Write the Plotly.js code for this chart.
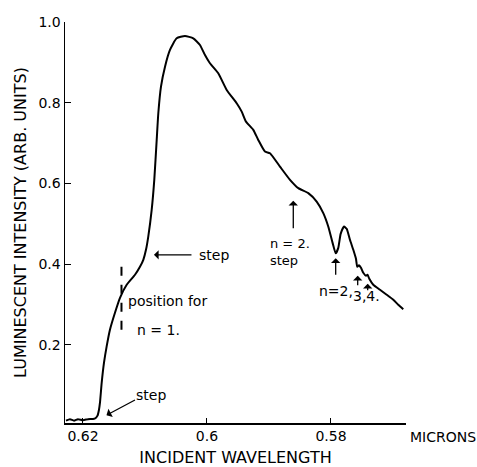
<!DOCTYPE html>
<html>
<head>
<meta charset="utf-8">
<script src="https://cdn.plot.ly/plotly-3.0.1.min.js"></script>
<style>html,body{margin:0;padding:0;background:#fff;}#chart{width:477px;height:467px;}</style>
</head>
<body>
<div id="chart"></div>
<script>
// Incident wavelength (microns)
const wavelength = [
  0.62274, 0.62210, 0.62145, 0.62081, 0.62000, 0.61919, 0.61839, 0.61790, 0.61766, 0.61742,
  0.61726, 0.61698, 0.61661, 0.61618, 0.61565, 0.61484, 0.61403, 0.61295, 0.61161, 0.61081,
  0.61027, 0.60984, 0.60947, 0.60892, 0.60850, 0.60811, 0.60785, 0.60742, 0.60677, 0.60597,
  0.60489, 0.60355, 0.60221, 0.60113, 0.60032, 0.59952, 0.59818, 0.59682, 0.59521, 0.59440,
  0.59371, 0.59253, 0.59173, 0.59065, 0.58984, 0.58823, 0.58661, 0.58527, 0.58366, 0.58231,
  0.58124, 0.58044, 0.57973, 0.57924, 0.57882, 0.57844, 0.57790, 0.57747, 0.57694, 0.57640,
  0.57597, 0.57576, 0.57548, 0.57516, 0.57479, 0.57435, 0.57411, 0.57382, 0.57318, 0.57210,
  0.57102, 0.56995, 0.56915, 0.56834
];
// Luminescent intensity (arb. units)
const intensity = [
  0.0118, 0.0155, 0.0118, 0.0155, 0.0130, 0.0155, 0.0160, 0.0192, 0.0241, 0.0390,
  0.0563, 0.1059, 0.1554, 0.1958, 0.2372, 0.2793, 0.3164, 0.3486, 0.3734, 0.3932,
  0.4105, 0.4353, 0.4682, 0.5344, 0.6087, 0.7077, 0.7739, 0.8397, 0.8893, 0.9307,
  0.9596, 0.9653, 0.9596, 0.9430, 0.9182, 0.8977, 0.8729, 0.8316, 0.7986, 0.7778,
  0.7531, 0.7325, 0.7077, 0.6788, 0.6748, 0.6416, 0.6087, 0.5881, 0.5757, 0.5549,
  0.5262, 0.4930, 0.4519, 0.4266, 0.4402, 0.4749, 0.4930, 0.4873, 0.4601, 0.4353,
  0.4130, 0.3932, 0.3969, 0.3907, 0.3783, 0.3709, 0.3734, 0.3635, 0.3486, 0.3362,
  0.3238, 0.3115, 0.2991, 0.2879
];
const xTickVals = [0.62, 0.60, 0.58];
const xTickText = ['0.62', '0.6', '0.58'];
const yTickVals = [0.2, 0.4, 0.6, 0.8, 1.0];
const yTickText = ['0.2', '0.4', '0.6', '0.8', '1.0'];

const FONT = 'DejaVu Sans, sans-serif';

const trace = {
  x: wavelength, y: intensity, type: 'scatter', mode: 'lines',
  line: {color: '#000', width: 2, shape: 'spline', smoothing: 0.5},
  hoverinfo: 'skip'
};

function txt(x, y, text, xanchor, size) {
  return {x: x, y: y, xref: 'x', yref: 'y', text: text, showarrow: false, align: 'left',
          xanchor: xanchor || 'left', yanchor: 'middle', font: {family: FONT, size: size || 14, color: '#000'}};
}
function arr(x, y, ax, ay) {
  return {x: x, y: y, xref: 'x', yref: 'y', ax: ax, ay: ay, text: '', showarrow: true,
          arrowhead: 1, arrowsize: 1.2, arrowwidth: 1.3, arrowcolor: '#000'};
}

const layout = {
  width: 477, height: 467,
  margin: {l: 65, r: 71, t: 22, b: 44},
  paper_bgcolor: '#fff', plot_bgcolor: '#fff',
  showlegend: false,
  font: {family: FONT, size: 14, color: '#000'},
  xaxis: {
    range: [0.6229, 0.5679], showgrid: false, zeroline: false,
    showline: true, linecolor: '#000', linewidth: 1.5,
    ticks: 'inside', ticklen: 5, tickwidth: 1, tickcolor: '#000',
    tickvals: xTickVals, ticktext: xTickText,
    tickfont: {family: FONT, size: 14},
    title: {text: 'INCIDENT WAVELENGTH', font: {family: FONT, size: 16}, standoff: 8}
  },
  yaxis: {
    range: [0.006, 1.0], showgrid: false, zeroline: false,
    showline: true, linecolor: '#000', linewidth: 1.5,
    ticks: 'inside', ticklen: 6, tickwidth: 1, tickcolor: '#000',
    tickvals: yTickVals, ticktext: yTickText,
    tickfont: {family: FONT, size: 14},
    title: {text: 'LUMINESCENT INTENSITY (ARB. UNITS)', font: {family: FONT, size: 16}, standoff: 8}
  },
  shapes: [
    {type: 'line', xref: 'x', yref: 'y', x0: 0.61379, x1: 0.61379, y0: 0.237, y1: 0.413,
     line: {color: '#000', width: 2, dash: 'dash'}}
  ],
  annotations: [
    {xref: 'paper', yref: 'paper', x: 1.006, y: -0.035, xanchor: 'left', yanchor: 'middle',
     text: 'MICRONS', showarrow: false, font: {family: FONT, size: 14, color: '#000'}},
    arr(0.60855, 0.4229, 39, 0),
    txt(0.60161, 0.4229, 'step'),
    txt(0.61311, 0.309, 'position for'),
    txt(0.60774, 0.2372, 'n = 1.', 'center'),
    arr(0.61621, 0.0254, 30, -16),
    txt(0.60903, 0.0762, 'step', 'center'),
    arr(0.58608, 0.5567, 0, 29),
    txt(0.59016, 0.4291, 'n = 2.<br>step', 'left', 13),
    arr(0.57924, 0.4142, 0, 18),
    txt(0.58231, 0.3320, 'n=2,'),
    arr(0.57569, 0.3709, 0, 11),
    arr(0.57408, 0.3511, 0, 8),
    txt(0.57677, 0.3214, '3,4.')
  ]
};

Plotly.newPlot('chart', [trace], layout, {displayModeBar: false, staticPlot: true});
</script>
</body>
</html>
